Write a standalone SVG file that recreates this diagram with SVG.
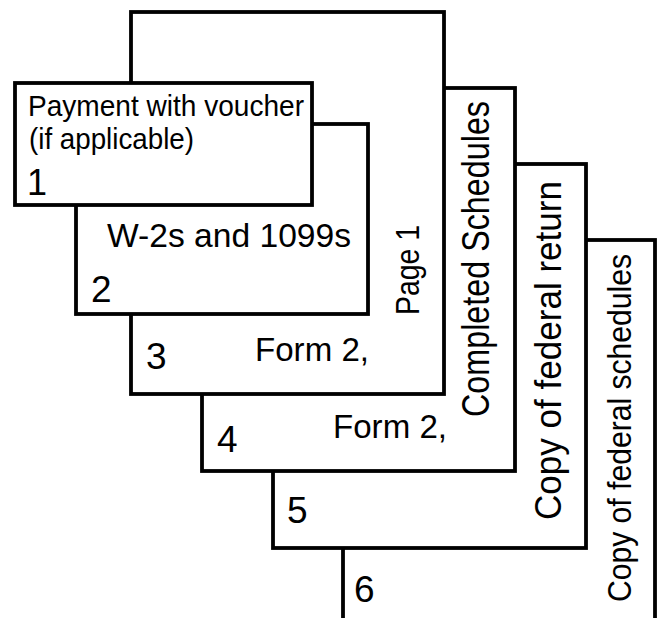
<svg xmlns="http://www.w3.org/2000/svg" width="659" height="618" viewBox="0 0 659 618">
<style>
.page{fill:#ffffff;stroke:#000000;stroke-width:3.8}
text{font-family:"Liberation Sans",Arial,sans-serif;fill:#000000}
.num{font-size:37px}
</style>
<rect width="659" height="618" fill="#ffffff"/>
<g id="page6">
<rect class="page" x="343" y="240" width="312" height="420"/>
<text class="num" x="354" y="602">6</text>
<text transform="translate(631,602) rotate(-90)" font-size="34" textLength="348" lengthAdjust="spacingAndGlyphs">Copy of federal schedules</text>
</g>
<g id="page5">
<rect class="page" x="273" y="164" width="313" height="384"/>
<text class="num" x="287" y="523">5</text>
<text transform="translate(561,520) rotate(-90)" font-size="37" textLength="339" lengthAdjust="spacingAndGlyphs">Copy of federal return</text>
</g>
<g id="page4">
<rect class="page" x="202" y="88" width="313" height="383"/>
<text class="num" x="217" y="452">4</text>
<text x="333" y="438" font-size="33" textLength="114" lengthAdjust="spacingAndGlyphs">Form 2,</text>
<text transform="translate(489,417) rotate(-90)" font-size="38" textLength="316" lengthAdjust="spacingAndGlyphs">Completed Schedules</text>
</g>
<g id="page3">
<rect class="page" x="131" y="12" width="313" height="382"/>
<text class="num" x="146" y="369">3</text>
<text x="255" y="361" font-size="33" textLength="114" lengthAdjust="spacingAndGlyphs">Form 2,</text>
<text transform="translate(419,315) rotate(-90)" font-size="34" textLength="90" lengthAdjust="spacingAndGlyphs">Page 1</text>
</g>
<g id="page2">
<rect class="page" x="76" y="124" width="292" height="190"/>
<text x="107" y="247" font-size="34" textLength="244" lengthAdjust="spacingAndGlyphs">W-2s and 1099s</text>
<text class="num" x="91" y="302">2</text>
</g>
<g id="page1">
<rect class="page" x="15" y="83" width="297" height="122"/>
<text x="28" y="116" font-size="29" textLength="276" lengthAdjust="spacingAndGlyphs">Payment with voucher</text>
<text x="29" y="149" font-size="29" textLength="165" lengthAdjust="spacingAndGlyphs">(if applicable)</text>
<text x="27" y="195" font-size="36">1</text>
</g>
</svg>
